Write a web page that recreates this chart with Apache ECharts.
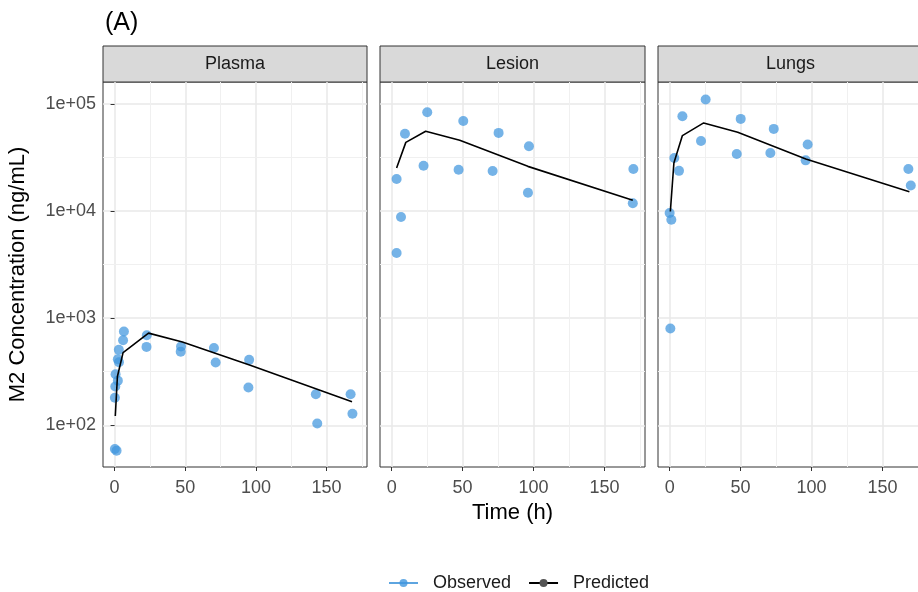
<!DOCTYPE html>
<html>
<head>
<meta charset="utf-8">
<script src="https://cdn.jsdelivr.net/npm/echarts@6/dist/echarts.min.js"></script>
<style>
  html, body { margin: 0; padding: 0; background: #fff; }
  #chart { width: 918px; height: 592px; }
</style>
</head>
<body>
<div id="chart"></div>
<script>
const panels = ["Plasma", "Lesion", "Lungs"];

// Plasma
const plasmaObsTime = [0.2, 1.4, 0.2, 0.5, 0.7, 2.3, 2.3, 3.1, 3, 6, 6.6, 22.8, 22.6, 47, 46.8, 70.3, 71.5, 95.2, 94.7, 142.4, 143.4, 167, 168.3];
const plasmaObsConc = [60, 58, 181, 230, 300, 261, 414, 388, 506, 622, 750, 693, 539, 543, 487, 527, 385, 408, 225, 195, 104, 195, 128];
const plasmaPredTime = [0.5, 2, 6, 24, 48, 96, 168];
const plasmaPredConc = [122, 285, 477, 725, 598, 364, 166];

// Lesion
const lesionObsTime = [3.5, 9.4, 25.1, 50.5, 75.4, 96.8, 22.5, 47.2, 71.2, 96.1, 170.4, 170, 6.6, 3.5];
const lesionObsConc = [19900, 52700, 83400, 69300, 53600, 40200, 26500, 24300, 23600, 14800, 24700, 11800, 8800, 4050];
const lesionPredTime = [3.5, 10, 24, 48, 96, 170];
const lesionPredConc = [25200, 43700, 55500, 45700, 26100, 12600];

// Lungs
const lungsObsTime = [0, 1.2, 3.3, 6.6, 9, 25.4, 22.1, 50.1, 47.3, 73.4, 71, 97.3, 95.9, 168.3, 170, 0.5];
const lungsObsConc = [9570, 8290, 31300, 23700, 76500, 109700, 45100, 72400, 34100, 58400, 34800, 41700, 29700, 24700, 17300, 800];
const lungsPredTime = [0.5, 3, 9, 24, 48, 96, 169];
const lungsPredConc = [9900, 28100, 50600, 66400, 54300, 30600, 15100];

const xTicks = [0, 50, 100, 150];
const yTicks = [100, 1000, 10000, 100000];
const yTickLabels = ["1e+02", "1e+03", "1e+04", "1e+05"];
const yMinor = [316.23, 3162.3, 31623];

const obsTimes = [plasmaObsTime, lesionObsTime, lungsObsTime];
const obsConcs = [plasmaObsConc, lesionObsConc, lungsObsConc];
const predTimes = [plasmaPredTime, lesionPredTime, lungsPredTime];
const predConcs = [plasmaPredConc, lesionPredConc, lungsPredConc];

const FONT = "Liberation Sans, Arial, sans-serif";
const OBS_COLOR = "rgba(64,150,222,0.72)";
const panelLeft = [103, 380, 658];
const panelWidth = [264, 265, 265];
const panelTop = 82, panelHeight = 385;
const stripTop = 46, stripHeight = 36;

const pairs = (xs, ys) => xs.map((x, i) => [x, ys[i]]);

const grids = [], xAxes = [], yAxes = [], series = [], graphics = [];

panels.forEach((name, i) => {
  grids.push({
    left: panelLeft[i], top: panelTop, width: panelWidth[i], height: panelHeight,
    show: true, borderColor: "#333333", borderWidth: 1, backgroundColor: "transparent",
    outerBoundsMode: "none", containLabel: false
  });
  xAxes.push({
    type: "value", gridIndex: i, min: -8.2, max: 178.6, splitNumber: 4,
    name: i === 1 ? "Time (h)" : "",
    nameLocation: "middle", nameGap: 35,
    nameTextStyle: { fontSize: 22, color: "#000", fontFamily: FONT },
    axisLine: { show: false },
    axisTick: { show: true, length: 4, customValues: xTicks, lineStyle: { color: "#333333", width: 1 } },
    axisLabel: { customValues: xTicks, color: "#4D4D4D", fontSize: 18, fontFamily: FONT, margin: 12 },
    splitLine: { show: true, lineStyle: { color: "#E8E8E8", width: 1.5 } },
    minorTick: { show: false, splitNumber: 2 },
    minorSplitLine: { show: true, lineStyle: { color: "#F0F0F0", width: 1 } }
  });
  yAxes.push({
    type: "log", logBase: 10, gridIndex: i, min: 40.8, max: 160000, splitNumber: 4,
    name: i === 0 ? "M2 Concentration (ng/mL)" : "",
    nameLocation: "middle", nameGap: 74,
    nameTextStyle: { fontSize: 22, color: "#000", fontFamily: FONT },
    axisLine: { show: false },
    axisTick: { show: i === 0, length: 4, customValues: yTicks, lineStyle: { color: "#333333", width: 1 } },
    axisLabel: {
      show: i === 0, customValues: yTicks, color: "#4D4D4D", fontSize: 18, fontFamily: FONT, margin: 7,
      formatter: function (v) {
        for (let k = 0; k < yTicks.length; k++) {
          if (Math.abs(Math.log10(v) - Math.log10(yTicks[k])) < 1e-6) return yTickLabels[k];
        }
        return "";
      }
    },
    splitLine: { show: true, lineStyle: { color: "#E8E8E8", width: 1.5 } }
  });
  // minor horizontal grid lines (half decades), kept under the data
  series.push({
    type: "line", name: "minor", xAxisIndex: i, yAxisIndex: i, data: [], z: 1, silent: true,
    markLine: {
      z: 1, silent: true, symbol: "none", animation: false,
      label: { show: false },
      lineStyle: { color: "#F0F0F0", width: 1, type: "solid" },
      data: yMinor.map(v => ({ yAxis: v }))
    }
  });
  series.push({
    type: "line", name: "Observed", xAxisIndex: i, yAxisIndex: i,
    data: pairs(obsTimes[i], obsConcs[i]),
    symbol: "circle", symbolSize: 10,
    itemStyle: { color: OBS_COLOR, borderWidth: 0 },
    lineStyle: { opacity: 0, width: 0 },
    emphasis: { disabled: true }, z: 3
  });
  series.push({
    type: "line", name: "Predicted", xAxisIndex: i, yAxisIndex: i,
    data: pairs(predTimes[i], predConcs[i]),
    symbol: "circle", showSymbol: false,
    itemStyle: { color: "#333333" },
    lineStyle: { color: "#000000", width: 1.6 },
    emphasis: { disabled: true }, z: 4
  });
  // facet strip
  graphics.push({
    type: "rect",
    shape: { x: panelLeft[i], y: stripTop, width: panelWidth[i], height: stripHeight },
    style: { fill: "#D9D9D9", stroke: "#333333", lineWidth: 1 }
  });
  graphics.push({
    type: "text",
    x: panelLeft[i] + panelWidth[i] / 2, y: stripTop + stripHeight / 2,
    style: {
      text: name, fill: "#1A1A1A", font: "18px " + FONT,
      textAlign: "center", textVerticalAlign: "middle", align: "center", verticalAlign: "middle"
    }
  });
});

const chart = echarts.init(document.getElementById("chart"));
chart.setOption({
  animation: false,
  backgroundColor: "#ffffff",
  title: {
    text: "(A)", left: 100, top: 6,
    textStyle: { fontSize: 25, fontWeight: "normal", color: "#000", fontFamily: FONT }
  },
  legend: {
    left: 383, top: 569,
    itemWidth: 29, itemHeight: 10, itemGap: 17,
    textStyle: { fontSize: 18, color: "#1A1A1A", fontFamily: FONT, padding: [0, 0, 0, 10] },
    data: [
      { name: "Observed", itemStyle: { color: "rgba(64,150,222,0.8)" }, lineStyle: { color: "#5DA5E0", opacity: 1, width: 2 } },
      { name: "Predicted", itemStyle: { color: "#555555" }, lineStyle: { color: "#000000", opacity: 1, width: 2 } }
    ]
  },
  grid: grids,
  xAxis: xAxes,
  yAxis: yAxes,
  series: series,
  graphic: graphics
});
</script>
</body>
</html>
